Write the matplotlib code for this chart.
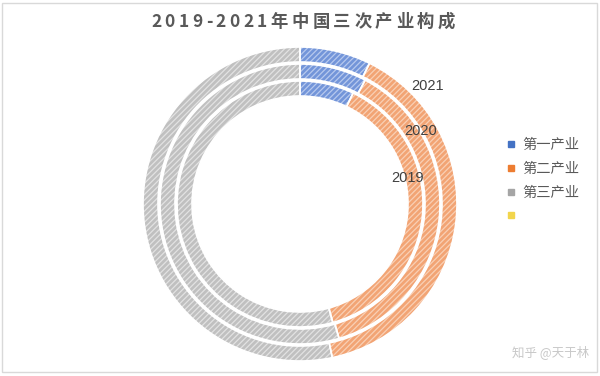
import matplotlib.pyplot as plt
from matplotlib.lines import Line2D
from matplotlib.patches import Rectangle

plt.rcParams['font.family'] = ['Noto Sans CJK SC', 'DejaVu Sans']
plt.rcParams['hatch.linewidth'] = 0.9

# 数据（%）
years = ['2021', '2020', '2019']
industries = ['第一产业', '第二产业', '第三产业', '']
share_2021 = [7.3, 39.4, 53.3]
share_2020 = [7.7, 37.8, 54.5]
share_2019 = [7.1, 38.6, 54.3]
shares = [share_2021, share_2020, share_2019]

face_cols = ['#7395D9', '#F2A474', '#C0C0C0']
hatch_cols = ['#B7C9EE', '#F9D0B5', '#E2E2E2']
legend_cols = ['#4472C4', '#ED7D31', '#A5A5A5', '#F2D54C']

fig = plt.figure(figsize=(6, 3.76), dpi=100)
ax = fig.add_axes([0, 0, 1, 1])

center = (300, 172)
radii = [157, 140, 123]
ring_w = 15

for vals, r in zip(shares, radii):
    wedges, _ = ax.pie(vals, radius=r, center=center, startangle=90,
                       counterclock=False, colors=face_cols,
                       wedgeprops=dict(width=ring_w, linewidth=0))
    for w, hc in zip(wedges, hatch_cols):
        w.set_hatch('//////')
        w.set_edgecolor(hc)
        w.set_linewidth(0)
    # 白色分隔线
    ax.pie(vals, radius=r, center=center, startangle=90, counterclock=False,
           colors=['none'] * 3,
           wedgeprops=dict(width=ring_w, linewidth=1.2, edgecolor='white'))

ax.set_xlim(0, 600)
ax.set_ylim(0, 376)
ax.set_aspect('auto')
ax.axis('off')

# 系列名称标签
label_pos = [(428, 290), (421, 245), (408, 198)]
for yr, (x, y) in zip(years, label_pos):
    ax.text(x, y, yr, fontsize=10.5, color='#404040', family='Liberation Sans',
            ha='center', va='center')

# 标题（加字距）
title = '2019-2021年中国三次产业构成'
renderer = fig.canvas.get_renderer()
widths = []
for ch in title:
    t = fig.text(0, 0, ch, fontsize=12.5, fontweight='bold')
    widths.append(t.get_window_extent(renderer).width)
    t.remove()
gap = (304 - sum(widths)) / (len(title) - 1)
x = 151
for ch, w in zip(title, widths):
    fig.text(x / 600, 1 - 22 / 376, ch, fontsize=12.5, fontweight='bold',
             color='#595959', ha='left', va='center')
    x += w + gap

# 图例
handles = [Line2D([], [], marker='s', linestyle='none', markersize=4,
                  markerfacecolor=c, markeredgecolor=c) for c in legend_cols]
fig.legend(handles, industries, loc='upper left',
           bbox_to_anchor=(500 / 600, 1 - 131 / 376), frameon=False,
           fontsize=10.3, labelcolor='#595959', handlelength=0.6,
           handletextpad=0.45, labelspacing=0.68, borderpad=0)

# 水印
fig.text(512 / 600, 24 / 376, '知乎 @天于林', fontsize=9, color='#C8C8C8',
         ha='left', va='center')

# 外框
fig.patches.append(Rectangle((2 / 600, 4 / 376), 595 / 600, 369 / 376,
                             transform=fig.transFigure, fill=False,
                             edgecolor='#D9D9D9', linewidth=1))

fig.savefig('out.png', dpi=100)
